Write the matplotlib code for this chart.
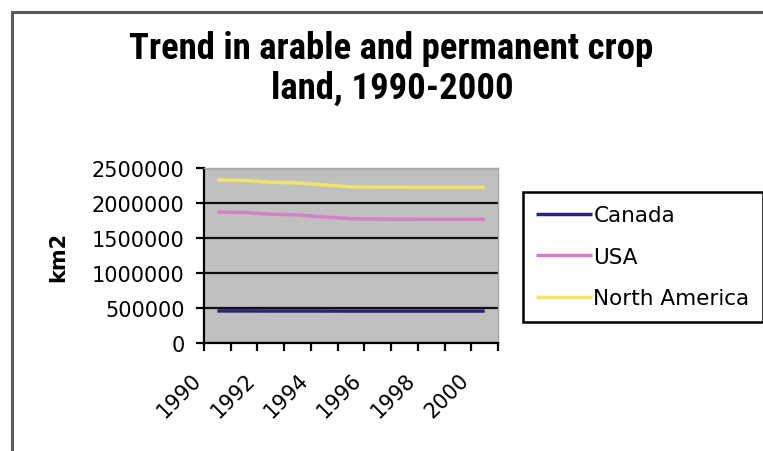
import matplotlib
matplotlib.use("Agg")
import matplotlib.pyplot as plt
import matplotlib.transforms as mtransforms
from matplotlib import font_manager
from matplotlib.patches import Rectangle
from matplotlib.ticker import FixedLocator, NullFormatter

# datos (km2)
years = [1990, 1991, 1992, 1993, 1994, 1995, 1996, 1997, 1998, 1999, 2000]
canada = [458000, 458000, 457000, 457000, 457000, 456000, 456000, 456000, 456000, 456000, 456000]
usa = [1870000, 1865000, 1840000, 1830000, 1800000, 1775000, 1770000, 1768000, 1767000, 1767000, 1766000]
north_america = [2328000, 2323000, 2297000, 2287000, 2257000, 2231000, 2226000, 2224000, 2223000, 2223000, 2222000]
series_names = ["Canada", "USA", "North America"]
series_colors = ["#25257a", "#d77ec8", "#f2e46a"]
yticks = [0, 500000, 1000000, 1500000, 2000000, 2500000]

W, H = 763, 452
fig = plt.figure(figsize=(W / 100, H / 100), dpi=100)
fig.patch.set_facecolor("white")

# marco exterior del grafico (cortado a la derecha y abajo)
fig.add_artist(Rectangle((12 / W, -0.1), 1.2, 1 - 13 / H + 0.1,
                         transform=fig.transFigure, fill=False,
                         ec="#5a5a5a", lw=2.2))

# titulo: fuente estrecha si existe, si no Liberation Sans
installed = {f.name for f in font_manager.fontManager.ttflist}
title_font, title_size = "Liberation Sans", 22.5
for cand in ["Liberation Sans Narrow", "Roboto Condensed", "Open Sans Condensed"]:
    if cand in installed:
        title_font, title_size = cand, 26.5
        break

fig.text(391 / W, 1 - 59 / H, "Trend in arable and permanent crop",
         ha="center", va="baseline", fontsize=title_size, fontweight="bold",
         family=[title_font, "DejaVu Sans"])
fig.text(392 / W, 1 - 99 / H, "land, 1990-2000",
         ha="center", va="baseline", fontsize=title_size, fontweight="bold",
         family=[title_font, "DejaVu Sans"])

ax = fig.add_axes([204 / W, 1 - 344 / H, (498 - 204) / W, (344 - 169) / H])
ax.set_facecolor("#c0c0c0")

x = list(range(len(years)))
for vals, name, col in zip([canada, usa, north_america], series_names, series_colors):
    ax.plot(x, vals, color=col, lw=2.5, label=name, solid_capstyle="butt")

ax.set_xlim(-0.5, len(years) - 0.5)
ax.set_ylim(0, 2500000)
ax.set_yticks(yticks)
ax.set_yticklabels([str(v) for v in yticks])
ax.yaxis.grid(True, color="#111111", lw=1.6)
ax.set_axisbelow(True)

# eje de categorias: marcas entre categorias, etiquetas cada dos años
ax.xaxis.set_major_locator(FixedLocator([i - 0.5 for i in range(len(years) + 1)]))
ax.xaxis.set_major_formatter(NullFormatter())
ax.set_xticks(x[::2], minor=True)
ax.set_xticklabels([str(y) for y in years[::2]], minor=True)

ax.tick_params(axis="x", which="major", length=6, width=1.6, color="black", direction="out")
ax.tick_params(axis="x", which="minor", length=0, pad=19, labelsize=15)
ax.tick_params(axis="y", length=6, width=1.6, color="black", pad=8, labelsize=15)

offset = mtransforms.ScaledTranslation(-12 / 100, 0, fig.dpi_scale_trans)
for lab in ax.get_xticklabels(minor=True):
    lab.set_rotation(45)
    lab.set_ha("right")
    lab.set_va("top")
    lab.set_transform(lab.get_transform() + offset)

for side in ["left", "bottom"]:
    ax.spines[side].set_color("black")
    ax.spines[side].set_linewidth(1.6)
for side in ["top", "right"]:
    ax.spines[side].set_color("#a8a8a8")
    ax.spines[side].set_linewidth(1)

fig.text(58 / W, 1 - 257 / H, "km2", rotation=90, ha="center", va="center",
         fontsize=15, fontweight="bold")

leg = ax.legend(loc="upper left", bbox_to_anchor=(523 / W, 1 - 193 / H),
                bbox_transform=fig.transFigure, borderaxespad=0,
                fontsize=15.5, handlelength=2.6, handletextpad=0.05,
                labelspacing=1.0, borderpad=0.62, fancybox=False, framealpha=1)
leg.get_frame().set_edgecolor("black")
leg.get_frame().set_linewidth(1.8)

fig.savefig("out.png", dpi=100)
